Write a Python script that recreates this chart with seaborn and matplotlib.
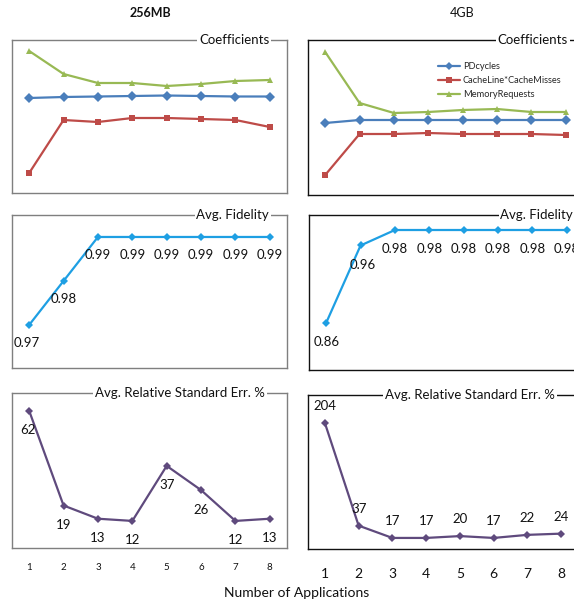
import numpy as np
import pandas as pd
import matplotlib
matplotlib.use("Agg")
import matplotlib.pyplot as plt
import seaborn as sns

# Datos
apps = [1, 2, 3, 4, 5, 6, 7, 8]

# Coeficientes (escala relativa, sin eje)
coef_256_pd = [10.2, 10.3, 10.35, 10.4, 10.45, 10.4, 10.35, 10.35]
coef_256_cache = [2.7, 8.0, 7.8, 8.2, 8.2, 8.1, 8.0, 7.3]
coef_256_mem = [14.9, 12.6, 11.7, 11.7, 11.4, 11.6, 11.9, 12.0]

coef_4g_pd = [7.7, 8.0, 8.0, 8.0, 8.0, 8.0, 8.0, 8.0]
coef_4g_cache = [2.5, 6.6, 6.6, 6.7, 6.6, 6.6, 6.6, 6.5]
coef_4g_mem = [14.8, 9.7, 8.7, 8.8, 9.0, 9.1, 8.8, 8.8]

fid_256 = [0.97, 0.98, 0.99, 0.99, 0.99, 0.99, 0.99, 0.99]
fid_4g = [0.86, 0.96, 0.98, 0.98, 0.98, 0.98, 0.98, 0.98]

rse_256 = [62, 19, 13, 12, 37, 26, 12, 13]
rse_4g = [204, 37, 17, 17, 20, 17, 22, 24]

series_names = ["PDcycles", "CacheLine*CacheMisses", "MemoryRequests"]
series_colors = ["#4A7EBB", "#BE4B48", "#98B954"]
series_markers = ["D", "s", "^"]
fid_color = "#1E9FE3"
rse_color = "#5F4A7D"

sns.set_style("white")
plt.rcParams["font.family"] = ["Lato", "DejaVu Sans"]

W, H = 574, 605
fig = plt.figure(figsize=(W / 100, H / 100), dpi=100)


def px_axes(x0, y0, x1, y1):
    # caja en pixeles (arriba-izquierda) -> fracciones de figura
    return fig.add_axes([x0 / W, 1 - y1 / H, (x1 - x0) / W, (y1 - y0) / H])


def frame(ax, title, xr, spine_col, right=True):
    for s in ax.spines.values():
        s.set_visible(True)
        s.set_color(spine_col)
        s.set_linewidth(1.0)
    ax.spines["right"].set_visible(right)
    ax.set_xlim(0.5, 8.5)
    ax.set_xticks(apps)
    ax.set_yticks([])
    ax.set_xlabel("")
    ax.set_ylabel("")
    ax.text(xr, 1.0, title, transform=ax.transAxes, ha="right", va="center",
            fontsize=9.5, color="#111111", zorder=10, clip_on=False,
            bbox=dict(facecolor="white", edgecolor="none", pad=1.2))


def coef_panel(ax, vals, ylim, xr, spine_col, legend=False, right=True):
    rows = []
    for name, v in zip(series_names, vals):
        for a, y in zip(apps, v):
            rows.append({"app": a, "val": y, "serie": name})
    df = pd.DataFrame(rows)
    sns.lineplot(data=df, x="app", y="val", hue="serie", style="serie",
                 palette=series_colors, markers=series_markers, dashes=False,
                 markersize=5, markeredgewidth=0, linewidth=1.6, ax=ax,
                 legend=legend)
    ax.set_ylim(*ylim)
    frame(ax, "Coefficients", xr, spine_col, right)
    ax.set_xticklabels([])
    ax.tick_params(axis="x", length=0)
    if legend:
        ax.legend(loc="upper left", bbox_to_anchor=(0.455, 0.885), frameon=False,
                  fontsize=6.7, handlelength=2.4, handletextpad=0.3,
                  labelspacing=0.5, borderpad=0, markerscale=0.8)
    else:
        leg = ax.get_legend()
        if leg:
            leg.remove()


def label_panel(ax, vals, color, ylim, title, xr, spine_col, fmt, dy, dx=None,
                right=True):
    sns.lineplot(x=apps, y=vals, color=color, marker="D", markersize=4.5,
                 markeredgewidth=0, linewidth=1.6, ax=ax)
    ax.set_ylim(*ylim)
    frame(ax, title, xr, spine_col, right)
    for i, (a, v) in enumerate(zip(apps, vals)):
        ox = dx[i] if dx else 0
        ax.annotate(fmt(v), (a, v), xytext=(ox, dy), textcoords="offset points",
                    ha="center", va="center", fontsize=9.5, color="#111111",
                    annotation_clip=False)


# columna izquierda (256MB)
ax1 = px_axes(12, 40, 287, 193)
coef_panel(ax1, [coef_256_pd, coef_256_cache, coef_256_mem], (0.7, 16.0), 0.935, "#7F7F7F")

ax2 = px_axes(12, 215, 287, 368)
label_panel(ax2, fid_256, fid_color, (0.9602, 0.995), "Avg. Fidelity", 0.935, "#7F7F7F",
            lambda v: f"{v:.2f}", -13, dx=[-2, 0, 0, 0, 0, 0, 0, 0])
ax2.set_xticklabels([])
ax2.tick_params(axis="x", length=0)

ax3 = px_axes(12, 393, 287, 548)
label_panel(ax3, rse_256, rse_color, (-0.3, 70.1), "Avg. Relative Standard Err. %", 0.92,
            "#7F7F7F", lambda v: f"{v:d}", -14, dx=[-1, 0, 0, 0, 0, 0, 0, 0])
ax3.tick_params(axis="x", length=0, pad=11, labelsize=7, labelcolor="#111111")

# columna derecha (4GB), cortada por el borde derecho
ax4 = px_axes(308, 40, 583, 195)
coef_panel(ax4, [coef_4g_pd, coef_4g_cache, coef_4g_mem], (0.5, 16.0), 0.945, "#111111",
           legend=True, right=False)

ax5 = px_axes(309, 215, 584, 370)
label_panel(ax5, fid_4g, fid_color, (0.799, 0.9994), "Avg. Fidelity", 0.96, "#111111",
            lambda v: f"{v:.2f}", -14, dx=[0, 1.5, 0, 0, 0, 0, 0, 0], right=False)
ax5.set_xticklabels([])
ax5.tick_params(axis="x", length=0)

ax6 = px_axes(308, 395, 578, 549)
label_panel(ax6, rse_4g, rse_color, (-1, 249.5), "Avg. Relative Standard Err. %", 0.915,
            "#111111", lambda v: f"{v:d}", 12, right=False)
ax6.tick_params(axis="x", length=0, pad=14, labelsize=10, labelcolor="#111111")

# titulos de columna y eje x comun
fig.text(150 / W, 1 - 13 / H, "256MB", ha="center", va="center", fontsize=9,
         fontweight="bold", color="#111111")
fig.text(462 / W, 1 - 13 / H, "4GB", ha="center", va="center", fontsize=9,
         color="#111111")
fig.text(297 / W, 1 - 593 / H, "Number of Applications", ha="center", va="center",
         fontsize=10, color="#111111")

fig.savefig("out.png", dpi=100)
